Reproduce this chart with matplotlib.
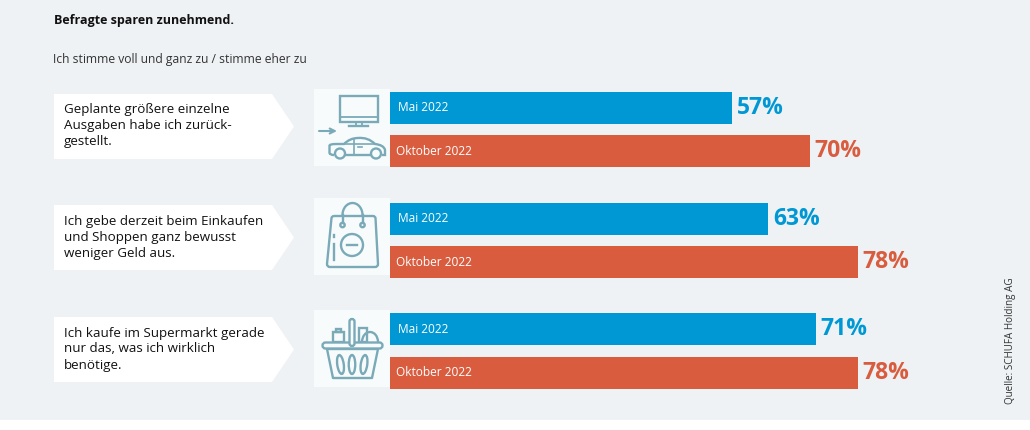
#!/usr/bin/env python
import matplotlib
matplotlib.use("Agg")
import matplotlib.pyplot as plt
from matplotlib.patches import Polygon, Rectangle, Circle, Ellipse, FancyBboxPatch, Arc, PathPatch
from matplotlib.path import Path

plt.rcParams['font.family'] = ['Open Sans', 'DejaVu Sans']

# Survey values, percent agreeing
statements = [
    "Geplante größere einzelne\nAusgaben habe ich zurück-\ngestellt.",
    "Ich gebe derzeit beim Einkaufen\nund Shoppen ganz bewusst\nweniger Geld aus.",
    "Ich kaufe im Supermarkt gerade\nnur das, was ich wirklich\nbenötige.",
]
mai_2022 = [57, 63, 71]
oktober_2022 = [70, 78, 78]
wave_labels = ["Mai 2022", "Oktober 2022"]

BG = "#eef2f5"
BLUE = "#0098d4"
RED = "#d95c3f"
ICON = "#7aaab8"
TILE = "#f8fbfc"
W, H = 1030, 430

fig = plt.figure(figsize=(W / 100, H / 100), dpi=100, facecolor="white")

# Overlay in pixel units for the panel, callouts and icons
bg = fig.add_axes([0, 0, 1, 1])
bg.set_xlim(0, W)
bg.set_ylim(H, 0)
bg.axis("off")
bg.add_patch(Rectangle((0, 0), W, 420, fc=BG, ec="none"))

bg.text(54, 20.5, "Befragte sparen zunehmend.", fontsize=9.0, fontweight="bold", color="#111111", va="center")
bg.text(53, 59, "Ich stimme voll und ganz zu / stimme eher zu", fontsize=8.75, color="#333333", va="center")
bg.text(1010, 341, "Quelle: SCHUFA Holding AG", fontsize=7.15, color="#333333", rotation=90, ha="center", va="center")

# Callouts with the statements
for txt, top in zip(statements, (94, 205, 317)):
    bot = top + 65
    bg.add_patch(Polygon([(54, top), (272, top), (294, (top + bot) / 2), (272, bot), (54, bot)], fc="white", ec="none"))
    bg.text(64, (top + bot) / 2 - 0.5, txt, fontsize=9.65, color="#111111", va="center", linespacing=1.3)

# White tiles behind the icons
for top in (89, 198, 310):
    bg.add_patch(Rectangle((314, top), 76, 77, fc=TILE, ec="none"))

line = dict(fc="none", ec=ICON, lw=1.7)

# Monitor, arrow, car
bg.add_patch(Rectangle((339.5, 95.5), 38, 26, **line))
bg.plot([340, 377], [117, 117], color=ICON, lw=1.3)
bg.plot([356, 356], [122, 125], color=ICON, lw=1.3)
bg.plot([362, 362], [122, 125], color=ICON, lw=1.3)
bg.plot([349, 368], [125.5, 125.5], color=ICON, lw=1.7)
bg.annotate("", xy=(337, 131), xytext=(319, 131), arrowprops=dict(arrowstyle="->", color=ICON, lw=1.5, mutation_scale=9, shrinkA=0, shrinkB=0))
car = Path(
    [(334, 155), (330, 155), (329.5, 153), (329.5, 146), (329, 144), (336, 144), (344, 144), (350, 138), (358, 138), (368, 137), (375, 144), (384, 145), (385, 150), (385, 155), (382, 155)],
    [Path.MOVETO, Path.CURVE3, Path.CURVE3, Path.LINETO, Path.CURVE3, Path.CURVE3, Path.LINETO, Path.CURVE3, Path.CURVE3, Path.CURVE3, Path.CURVE3, Path.CURVE3, Path.CURVE3, Path.LINETO, Path.LINETO],
)
bg.add_patch(PathPatch(car, **line))
bg.plot([345, 374], [144, 144], color=ICON, lw=1.2)
bg.plot([354, 354], [139, 155], color=ICON, lw=1.2)
bg.plot([346, 370], [155, 155], color=ICON, lw=1.7)
bg.plot([358, 362], [147, 147], color=ICON, lw=1.2)
bg.add_patch(Circle((340, 153.5), 5, fc=TILE, ec=ICON, lw=1.7, zorder=3))
bg.add_patch(Circle((376, 153.5), 5, fc=TILE, ec=ICON, lw=1.7, zorder=3))

# Shopping bag
bag = Path(
    [(334, 216), (373, 216), (375, 216), (375.5, 218), (378, 264), (378, 267), (375, 267), (330, 267), (327, 267), (327, 264), (331.5, 218), (332, 216), (334, 216)],
    [Path.MOVETO, Path.LINETO, Path.CURVE3, Path.CURVE3, Path.LINETO, Path.CURVE3, Path.CURVE3, Path.LINETO, Path.CURVE3, Path.CURVE3, Path.LINETO, Path.CURVE3, Path.CURVE3],
)
bg.add_patch(PathPatch(bag, **line))
bg.add_patch(Arc((352.5, 215), 20, 24, theta1=180, theta2=360, ec=ICON, lw=1.7))
bg.plot([342.5, 342.5], [215, 223], color=ICON, lw=1.7)
bg.plot([362.5, 362.5], [215, 223], color=ICON, lw=1.7)
bg.add_patch(Circle((342.5, 225), 2.2, **line))
bg.add_patch(Circle((362.5, 225), 2.2, **line))
bg.add_patch(Circle((352, 245), 11, **line))
bg.plot([347, 357], [245, 245], color=ICON, lw=1.7)
bg.plot([333.5, 333.5], [244, 260], color=ICON, lw=1.7)
bg.plot([333.5, 333.5], [235, 237], color=ICON, lw=1.7)

# Basket
bg.add_patch(Polygon([(327, 349), (378, 349), (372, 378), (333, 378)], closed=True, joinstyle="round", **line))
bg.add_patch(Rectangle((333, 332), 11, 10, **line))
bg.add_patch(Rectangle((336, 328.5), 5, 3.5, **line))
bg.add_patch(Rectangle((359, 328), 8, 14, **line))
bg.add_patch(Arc((370, 342), 16, 20, theta1=180, theta2=360, ec=ICON, lw=1.7))
bg.add_patch(FancyBboxPatch((322.5, 342.5), 60, 6, boxstyle="round,pad=0,rounding_size=3", fc=TILE, ec=ICON, lw=1.7, zorder=3))
for sx, tilt in zip((340.5, 352, 364), (-8, 0, 8)):
    bg.add_patch(Ellipse((sx, 364.5), 6.5, 19, angle=tilt, **line))
bg.add_patch(FancyBboxPatch((349.5, 319), 5, 27, boxstyle="round,pad=0,rounding_size=2.5", fc=TILE, ec=ICON, lw=1.7, zorder=4))

# Bars: x axis is percent, 6 px per point starting at the left edge of the bars
bar_left, bar_right = 390, 990
top_px, bot_px = 75, 406
ax = fig.add_axes([bar_left / W, 1 - bot_px / H, (bar_right - bar_left) / W, (bot_px - top_px) / H])
ax.patch.set_alpha(0)
ax.set_xlim(0, 100)
ax.set_ylim((bot_px - 129.7) / 110.7, -(129.7 - top_px) / 110.7)
ax.axis("off")

offset = 21.75 / 110.7
height = 32 / 110.7
groups = range(len(statements))
ax.barh([g - offset for g in groups], mai_2022, height=height, color=BLUE)
ax.barh([g + offset for g in groups], oktober_2022, height=height, color=RED)

for g, a, b in zip(groups, mai_2022, oktober_2022):
    ax.text(1.3, g - offset, wave_labels[0], color="white", fontsize=8.55, va="center")
    ax.text(1.0, g + offset, wave_labels[1], color="white", fontsize=8.55, va="center")
    ax.text(a + 0.8, g - offset, f"{a}%", color=BLUE, fontsize=16.5, fontweight="bold", va="center")
    ax.text(b + 0.8, g + offset, f"{b}%", color=RED, fontsize=16.5, fontweight="bold", va="center")

fig.savefig("out.png", dpi=100)
